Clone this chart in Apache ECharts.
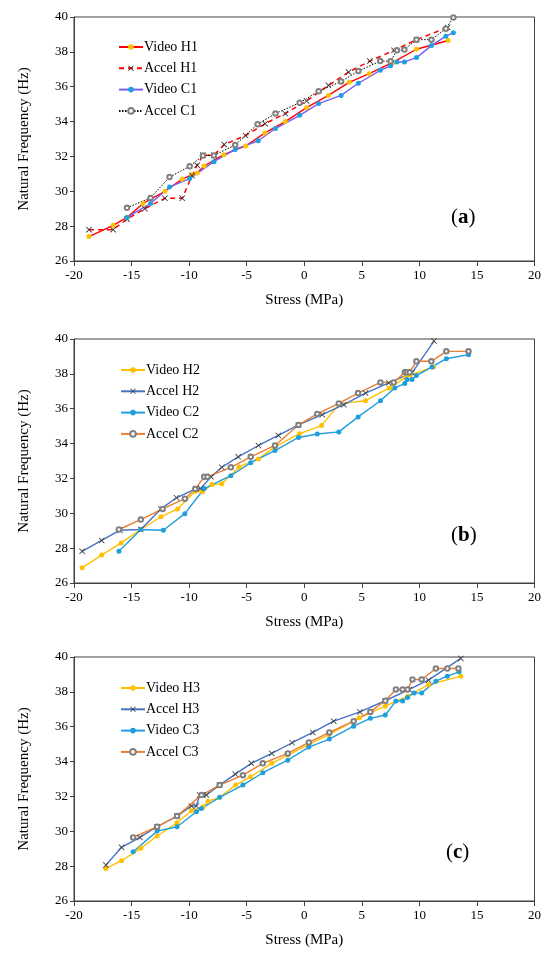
<!DOCTYPE html>
<html>
<head>
<meta charset="utf-8">
<script src="https://cdn.jsdelivr.net/npm/echarts@6/dist/echarts.min.js"></script>
<style>
html,body{margin:0;padding:0;background:#fff;}
#chart{width:544px;height:956px;}
</style>
</head>
<body>
<div id="chart"></div>
<script>
// ---------- tick values ----------
const xTicks = { min: -20, max: 20, interval: 5 };
const yTicks = { min: 26, max: 40, interval: 2 };
const panelLabels = ['a', 'b', 'c'];
const xAxisTitle = 'Stress (MPa)';
const yAxisTitle = 'Natural Frequency (Hz)';

// ---------- panel (a) ----------
const videoH1 = [[-18.7,27.4],[-16.6,28.05],[-15.4,28.5],[-14.0,29.3],[-12.1,30.0],[-10.6,30.7],[-9.75,30.95],[-9.3,31.05],[-8.7,31.45],[-7.0,32.1],[-5.1,32.6],[-3.4,33.35],[-1.65,34.0],[0.2,34.8],[2.1,35.5],[3.9,36.25],[5.65,36.75],[7.7,37.4],[9.75,38.15],[12.5,38.65]];
const accelH1 = [[-18.7,27.8],[-16.6,27.8],[-15.4,28.4],[-13.85,29.0],[-12.1,29.6],[-10.6,29.6],[-9.75,30.9],[-9.3,31.5],[-8.8,32.07],[-7.85,32.07],[-6.95,32.68],[-5.1,33.2],[-3.4,33.88],[-1.65,34.46],[0.2,35.18],[2.1,36.08],[3.85,36.84],[5.7,37.47],[7.8,38.09],[9.75,38.7],[12.45,39.4]];
const videoC1 = [[-15.4,28.5],[-13.35,29.3],[-11.7,30.25],[-9.95,30.73],[-7.85,31.7],[-6.0,32.4],[-4.0,32.9],[-2.5,33.6],[-0.4,34.36],[1.25,35.03],[3.2,35.5],[4.7,36.2],[6.6,36.94],[7.5,37.2],[8.05,37.42],[8.7,37.42],[9.75,37.67],[11.05,38.36],[12.3,38.9],[12.95,39.1]];
const accelC1 = [[-15.4,29.05],[-13.35,29.62],[-11.7,30.82],[-9.95,31.43],[-8.8,32.05],[-7.85,32.05],[-6.0,32.66],[-4.05,33.85],[-2.5,34.46],[-0.4,35.08],[1.25,35.74],[3.2,36.3],[4.7,36.9],[6.6,37.47],[7.5,37.46],[8.05,38.09],[8.7,38.13],[9.75,38.7],[11.05,38.7],[12.3,39.33],[12.95,39.97]];

// ---------- panel (b) ----------
const videoH2 = [[-19.3,26.87],[-17.6,27.6],[-15.9,28.3],[-14.2,29.07],[-12.45,29.8],[-11.0,30.25],[-9.47,31.26],[-8.84,31.23],[-8.02,31.65],[-7.16,31.69],[-5.66,32.66],[-3.98,33.12],[-2.54,33.81],[-0.4,34.57],[1.5,35.03],[3.07,36.29],[5.32,36.46],[7.4,37.19],[8.8,37.8],[9.2,37.92],[11.24,38.4]];
const accelH2 = [[-19.3,27.82],[-17.6,28.44],[-16.0,29.03],[-14.2,29.07],[-12.45,30.25],[-11.1,30.89],[-9.4,31.42],[-9.0,31.42],[-8.1,32.09],[-7.16,32.64],[-5.74,33.24],[-3.98,33.89],[-2.25,34.47],[-0.5,35.07],[1.56,35.66],[3.44,36.23],[5.32,36.9],[7.34,37.48],[9.36,38.06],[11.27,39.88]];
const videoC2 = [[-16.1,27.82],[-14.2,29.07],[-12.24,29.03],[-10.37,29.98],[-8.69,31.42],[-6.38,32.16],[-4.65,32.9],[-2.54,33.6],[-0.5,34.35],[1.13,34.55],[3.0,34.67],[4.68,35.53],[6.62,36.46],[7.86,37.19],[8.73,37.44],[8.93,37.67],[9.36,37.67],[9.74,37.9],[11.1,38.4],[12.34,38.87],[14.27,39.1]];
const accelC2 = [[-16.1,29.07],[-14.2,29.64],[-12.3,30.25],[-10.37,30.84],[-9.47,31.4],[-8.69,32.09],[-8.4,32.09],[-6.38,32.64],[-4.65,33.24],[-2.54,33.89],[-0.5,35.07],[1.13,35.7],[3.0,36.3],[4.68,36.9],[6.62,37.51],[7.77,37.51],[8.73,38.09],[8.93,38.09],[9.16,38.09],[9.74,38.72],[11.04,38.72],[12.34,39.29],[14.27,39.29]];

// ---------- panel (c) ----------
const videoH3 = [[-17.23,27.87],[-15.87,28.31],[-14.2,29.02],[-12.78,29.73],[-11.05,30.49],[-9.8,31.18],[-8.8,31.4],[-8.36,31.73],[-7.35,31.95],[-5.96,32.65],[-4.66,33.13],[-2.82,33.9],[-1.43,34.37],[0.3,34.95],[2.18,35.56],[4.78,36.51],[7.04,37.18],[9.0,37.75],[10.8,38.41],[13.6,38.9]];
const accelH3 = [[-17.23,28.06],[-15.87,29.08],[-14.28,29.65],[-12.78,30.26],[-11.05,30.87],[-9.8,31.45],[-9.37,31.45],[-9.08,32.08],[-8.8,32.08],[-8.5,32.08],[-7.35,32.65],[-5.99,33.28],[-4.6,33.9],[-2.82,34.47],[-1.05,35.08],[0.74,35.67],[2.56,36.32],[4.84,36.85],[7.04,37.49],[9.12,38.14],[10.79,38.67],[13.6,39.92]];
const videoC3 = [[-14.86,28.83],[-12.78,30.01],[-11.05,30.26],[-9.37,31.12],[-8.93,31.31],[-7.35,31.95],[-5.33,32.65],[-3.6,33.36],[-1.43,34.08],[0.4,34.83],[2.18,35.29],[4.29,36.03],[5.74,36.48],[7.04,36.67],[7.96,37.47],[8.54,37.47],[8.97,37.68],[9.55,37.94],[10.2,37.94],[11.43,38.61],[12.43,38.9],[13.45,39.15]];
const accelC3 = [[-14.86,29.65],[-12.78,30.26],[-11.05,30.87],[-8.93,32.08],[-7.35,32.65],[-5.33,33.22],[-3.6,33.9],[-1.43,34.47],[0.4,35.1],[2.18,35.67],[4.29,36.32],[5.74,36.85],[7.04,37.49],[7.96,38.14],[8.54,38.14],[8.97,38.14],[9.4,38.71],[10.2,38.71],[11.43,39.34],[12.43,39.34],[13.39,39.34]];

// ---------- styling ----------
const FONT = '"Liberation Serif", "Times New Roman", serif';
const X_SYMBOL = 'path://M0,1L1,0L5,4L9,0L10,1L6,5L10,9L9,10L5,6L1,10L0,9L4,5Z';
const gridTops = [17, 339, 657];
const gridH = 244;

const chart = echarts.init(document.getElementById('chart'), null, { renderer: 'canvas' });

const grids = gridTops.map(t => ({ left: 74, top: t, width: 462, height: gridH, show: true, borderColor: '#404040', borderWidth: 1, backgroundColor: 'transparent' }));
const xAxes = gridTops.map((t, i) => ({
  type: 'value', gridIndex: i, min: xTicks.min, max: xTicks.max, interval: xTicks.interval,
  name: xAxisTitle, nameLocation: 'middle', nameGap: 32,
  nameTextStyle: { fontFamily: FONT, fontSize: 15, color: '#000' },
  axisLine: { show: true, onZero: false, lineStyle: { color: '#404040', width: 1 } },
  axisTick: { show: true, inside: false, length: 5, lineStyle: { color: '#404040' } },
  axisLabel: { fontFamily: FONT, fontSize: 13, color: '#000', margin: 8 },
  splitLine: { show: false }
}));
const yAxes = gridTops.map((t, i) => ({
  type: 'value', gridIndex: i, min: yTicks.min, max: yTicks.max, interval: yTicks.interval,
  name: yAxisTitle, nameLocation: 'middle', nameGap: 42, nameRotate: 90,
  nameTextStyle: { fontFamily: FONT, fontSize: 15, color: '#000' },
  axisLine: { show: true, onZero: false, lineStyle: { color: '#404040', width: 1 } },
  axisTick: { show: true, inside: false, length: 4, lineStyle: { color: '#404040' } },
  axisLabel: { fontFamily: FONT, fontSize: 13, color: '#000', margin: 6 },
  splitLine: { show: false }
}));

function mk(name, data, idx, lineColor, lineType, lineWidth, symbol, symSize, markColor) {
  return {
    name, type: 'line', data, xAxisIndex: idx, yAxisIndex: idx,
    symbol, symbolSize: symSize, showSymbol: true, animation: false,
    lineStyle: { color: lineColor, type: lineType, width: lineWidth },
    itemStyle: symbol === 'emptyCircle' ? { color: markColor, borderColor: markColor, borderWidth: 0.8 } : { color: markColor },
    emphasis: { disabled: true }, z: 2
  };
}

const series = [
  mk('Video H1', videoH1, 0, '#FF0000', 'solid', 1.4, 'circle', 5, '#FFC000'),
  mk('Accel H1', accelH1, 0, '#FF0000', [5, 4], 1.5, X_SYMBOL, 6, '#3a2a2a'),
  mk('Video C1', videoC1, 0, '#7B5CF0', 'solid', 1.4, 'circle', 5, '#1BA1E2'),
  mk('Accel C1', accelC1, 0, '#000000', [1.5, 1.5], 1, 'emptyCircle', 4.5, '#808080'),

  mk('Video H2', videoH2, 1, '#FFC000', 'solid', 1.4, 'circle', 5, '#FFC000'),
  mk('Accel H2', accelH2, 1, '#4472C4', 'solid', 1.4, X_SYMBOL, 6, '#404040'),
  mk('Video C2', videoC2, 1, '#1F9EDC', 'solid', 1.4, 'circle', 5, '#1F9EDC'),
  mk('Accel C2', accelC2, 1, '#ED7D31', 'solid', 1.4, 'emptyCircle', 4.5, '#808080'),

  mk('Video H3', videoH3, 2, '#FFC000', 'solid', 1.4, 'circle', 5, '#FFC000'),
  mk('Accel H3', accelH3, 2, '#4472C4', 'solid', 1.4, X_SYMBOL, 6, '#404040'),
  mk('Video C3', videoC3, 2, '#1F9EDC', 'solid', 1.4, 'circle', 5, '#1F9EDC'),
  mk('Accel C3', accelC3, 2, '#ED7D31', 'solid', 1.4, 'emptyCircle', 4.5, '#808080')
];

const legendTops = [35, 358, 676];
const legendLefts = [113, 115, 115];
const legends = legendTops.map((t, i) => ({
  orient: 'vertical', left: legendLefts[i], top: t, itemWidth: 24, itemHeight: 7, itemGap: 7.3,
  data: series.filter(s => s.xAxisIndex === i).map(s => s.name),
  textStyle: { fontFamily: FONT, fontSize: 14, color: '#000', padding: [0, 0, 0, -4] },
  selectedMode: false, backgroundColor: 'transparent'
}));

const labelPos = [[451, 207], [451, 525], [446, 842]];
const graphics = panelLabels.map((l, i) => ({
  type: 'text', left: labelPos[i][0], top: labelPos[i][1], z: 10,
  style: {
    text: '{p|(}{b|' + l + '}{p|)}',
    rich: {
      p: { fontFamily: FONT, fontSize: 21, fill: '#000' },
      b: { fontFamily: FONT, fontSize: 21, fontWeight: 'bold', fill: '#000' }
    }
  }
}));

chart.setOption({
  animation: false,
  backgroundColor: '#ffffff',
  grid: grids,
  xAxis: xAxes,
  yAxis: yAxes,
  legend: legends,
  series,
  graphic: graphics
});
</script>
</body>
</html>
